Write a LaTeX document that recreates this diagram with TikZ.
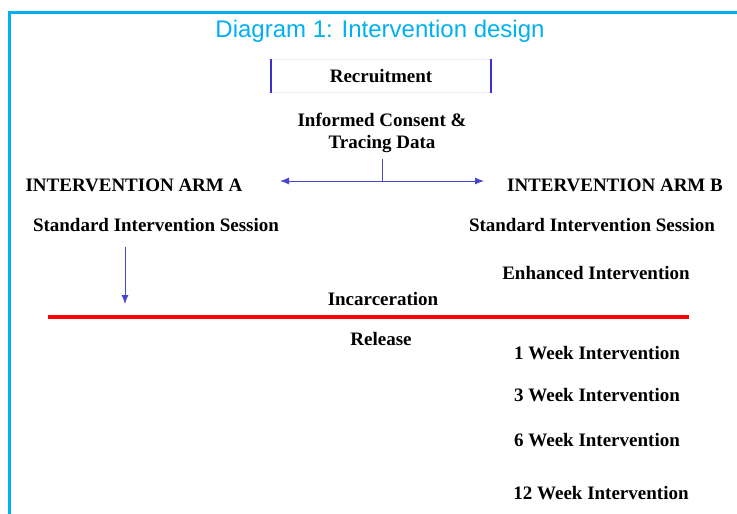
\documentclass[tikz,border=0pt]{standalone}
\usepackage{fontspec}
\setmainfont{Liberation Serif}
\newfontfamily\titlefont{Liberation Sans}
\usetikzlibrary{arrows.meta,positioning}
\definecolor{framecyan}{RGB}{0,176,240}
\definecolor{arrowblue}{RGB}{70,70,210}
\definecolor{barblue}{RGB}{60,50,200}
\tikzset{label/.style={
    % The text:
    font=\fontsize{19}{22}\selectfont\bfseries,
    align=center,
    inner sep=1pt
    },
    titletext/.style={
    font=\titlefont\fontsize{24}{27}\selectfont,
    text=framecyan,
    inner sep=1pt
    },
    recbox/.style={
    rectangle,
    minimum width=220pt,
    minimum height=33pt,
    draw=black!6,
    },
    flow/.style={
    draw=arrowblue,
    line width=1pt,
    },
}

\begin{document}
\begin{tikzpicture}[x=1pt,y=-1pt,>={Latex[length=9pt,width=7pt]}]
    \useasboundingbox (0,0) rectangle (737,514);
    % frame
    \draw[framecyan,line width=3pt] (9,514) -- (9,12) -- (737,12);

    \node (title)   [titletext] at (380,31)  {Diagram 1: Intervention design};
    \node (recruit) [recbox,label] at (381,76) {Recruitment};
    \draw[barblue,line width=1.6pt] (recruit.north west) -- (recruit.south west);
    \draw[barblue,line width=1.6pt] (recruit.north east) -- (recruit.south east);
    \node (consent) [label] at (382,133) {Informed Consent \&\\Tracing Data};

    \node (armA)    [label] at (134,185) {INTERVENTION ARM A};
    \node (armB)    [label] at (615,185) {INTERVENTION ARM B};
    \node (stdA)    [label] at (156,225) {Standard Intervention Session};
    \node (stdB)    [label] at (592,225) {Standard Intervention Session};
    \node (enhB)    [label] at (596,273) {Enhanced Intervention};
    \node (incarc)  [label] at (383,299) {Incarceration};
    \node (release) [label] at (381,339) {Release};
    \node (week1)   [label] at (597,353) {1 Week Intervention};
    \node (week3)   [label] at (597,395) {3 Week Intervention};
    \node (week6)   [label] at (597,440) {6 Week Intervention};
    \node (week12)  [label] at (601,493) {12 Week Intervention};

    % split arrow
    \coordinate (split) at (382,181);
    \coordinate (toA)   at (280,181);
    \coordinate (toB)   at (484,181);
    \draw[flow] (consent.south) ++(0,5) -- (split);
    \draw[flow,<->] (toA) -- (toB);

    % arm A down to incarceration
    \coordinate (downA) at (125,304);
    \draw[flow,->] (stdA.south -| downA) ++(0,14) -- (downA);

    % incarceration line
    \coordinate (lineL) at (48,317);
    \coordinate (lineR) at (689,317);
    \draw[red,line width=4pt] (lineL) -- (lineR);
\end{tikzpicture}
\end{document}
